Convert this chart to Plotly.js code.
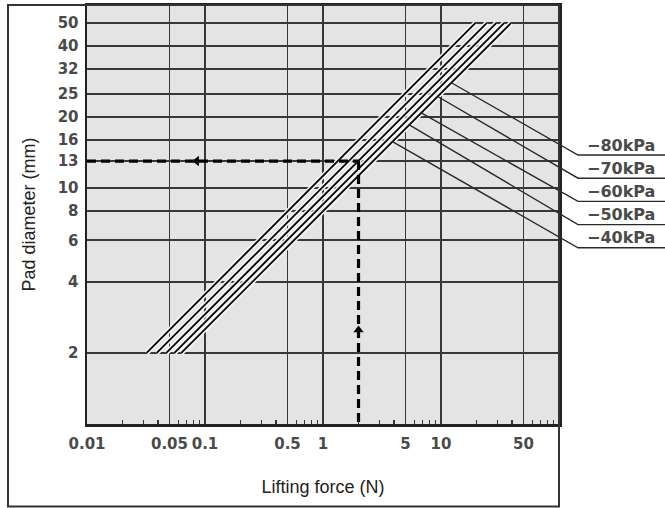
<!DOCTYPE html>
<html><head><meta charset="utf-8">
<script src="https://cdn.plot.ly/plotly-3.0.1.min.js"></script>
<style>html,body{margin:0;padding:0;background:#fff}</style>
</head><body><div id="chart" style="width:665px;height:508px"></div>
<script>
// ---- data ----
const pressureLabels = ['80kPa', '70kPa', '60kPa', '50kPa', '40kPa'];
const diameterEnds = [2, 50];               // mm, where every line starts / ends
const force80 = [0.063, 39.3];              // N at d = 2 and d = 50
const force70 = [0.055, 34.4];
const force60 = [0.047, 29.5];
const force50 = [0.039, 24.5];
const force40 = [0.032, 19.6];
const yTickVals = [2, 4, 6, 8, 10, 13, 16, 20, 25, 32, 40, 50];
const xTickVals = [0.01, 0.05, 0.1, 0.5, 1, 5, 10, 50];
const xTickText = ['0.01', '0.05', '0.1', '0.5', '1', '5', '10', '50'];
const xMinorVals = [0.02, 0.03, 0.04, 0.06, 0.07, 0.08, 0.09,
                    0.2, 0.3, 0.4, 0.6, 0.7, 0.8, 0.9,
                    2, 3, 4, 6, 7, 8, 9,
                    20, 30, 40, 60, 70, 80, 90];
const exampleForce = 2;        // N  (vertical dashed guide)
const exampleDiameter = 13;    // mm (horizontal dashed guide)
const arrowLeftForce = 0.085;  // arrow head on the horizontal guide
const arrowUpDiameter = 2.5;   // arrow head on the vertical guide
const leaderDiameters = [27.9, 24.4, 20.8, 18.5, 15.7]; // where leaders leave the band

// ---- layout constants ----
const W = 665, H = 508;
const M = {l: 87, r: 106, t: 5, b: 84};
const PW = W - M.l - M.r, PH = H - M.t - M.b;
const xRange = [-2, 2], yRange = [0, 1.775];
const lg = Math.log10;
const pxX = p => (p - M.l) / PW;            // pixel -> paper
const pxY = p => (H - M.b - p) / PH;
const dataX = f => (lg(f) - xRange[0]) / (xRange[1] - xRange[0]);
const dataY = d => (lg(d) - yRange[0]) / (yRange[1] - yRange[0]);

const seriesForces = [force80, force70, force60, force50, force40];
const traces = [];
// white halo under the band
seriesForces.forEach(f => traces.push({
  x: f, y: diameterEnds, mode: 'lines', type: 'scatter',
  line: {color: '#f8f8f8', width: 5}, hoverinfo: 'skip', showlegend: false
}));
seriesForces.forEach((f, i) => traces.push({
  x: f, y: diameterEnds, mode: 'lines', type: 'scatter', name: pressureLabels[i],
  line: {color: '#0a0a0a', width: 1.9}, showlegend: false
}));
// dashed guides
traces.push({
  x: [xTickVals[0], exampleForce], y: [exampleDiameter, exampleDiameter],
  mode: 'lines', type: 'scatter', line: {color: '#000', width: 3.2, dash: '9px,5px'},
  showlegend: false, cliponaxis: false
});
traces.push({
  x: [exampleForce, exampleForce], y: [exampleDiameter, 1],
  mode: 'lines', type: 'scatter', line: {color: '#000', width: 3.2, dash: '9px,5px'},
  showlegend: false, cliponaxis: false
});
traces.push({
  x: [arrowLeftForce], y: [exampleDiameter], mode: 'markers', type: 'scatter',
  marker: {symbol: 'triangle-left', size: 9, color: '#000'}, showlegend: false
});
traces.push({
  x: [exampleForce], y: [arrowUpDiameter], mode: 'markers', type: 'scatter',
  marker: {symbol: 'triangle-up', size: 9, color: '#000'}, showlegend: false
});

// leader lines & labels
const shapes = [];
const annotations = [];
const labelTop = 145, labelStep = 23.2;
const bendX = pxX(578), endX = pxX(665);
// 80kPa line in log space (rightmost edge of the band)
const edgeForceAt = d => {
  const t = (lg(d) - lg(diameterEnds[0])) / (lg(diameterEnds[1]) - lg(diameterEnds[0]));
  return Math.pow(10, lg(force80[0]) + t * (lg(force80[1]) - lg(force80[0])));
};
pressureLabels.forEach((lab, i) => {
  const cy = labelTop + i * labelStep;
  const uy = pxY(cy + 10);
  const sx = dataX(edgeForceAt(leaderDiameters[i]));
  const sy = dataY(leaderDiameters[i]);
  shapes.push({
    type: 'path', xref: 'paper', yref: 'paper',
    path: `M ${sx} ${sy} L ${bendX} ${uy} L ${endX} ${uy}`,
    line: {color: '#2a2a2a', width: 1.4}, layer: 'above'
  });
  annotations.push({
    xref: 'paper', yref: 'paper', x: pxX(585), y: pxY(cy),
    xanchor: 'left', yanchor: 'middle', showarrow: false,
    text: '\u2212' + lab,
    font: {family: 'DejaVu Sans', size: 16, color: '#4a4a4a', weight: 'bold'}
  });
});
// outer frame
shapes.push({
  type: 'rect', xref: 'paper', yref: 'paper',
  x0: pxX(8), x1: 1, y0: pxY(506.5), y1: 1,
  line: {color: '#333', width: 2}, layer: 'above'
});

const tickFont = {family: 'DejaVu Sans', size: 15, color: '#4a4a4a', weight: 'bold'};
const layout = {
  width: W, height: H, margin: M,
  paper_bgcolor: '#ffffff', plot_bgcolor: '#e4e4e4',
  showlegend: false,
  xaxis: {
    type: 'log', range: xRange, tickmode: 'array', tickvals: xTickVals, ticktext: xTickText,
    showgrid: true, gridcolor: '#383838', gridwidth: 1.7,
    showline: true, linecolor: '#222', linewidth: 2.5, mirror: true,
    ticks: '', tickfont: tickFont, ticklabelstandoff: 4, zeroline: false,
    minor: {tickmode: 'array', tickvals: xMinorVals, ticks: 'inside', ticklen: 4,
            tickcolor: '#333', tickwidth: 1.2, showgrid: false},
    title: {text: 'Lifting force (N)', standoff: 29,
            font: {family: 'Liberation Sans', size: 18, color: '#222'}}
  },
  yaxis: {
    type: 'log', range: yRange, tickmode: 'array', tickvals: yTickVals,
    ticktext: yTickVals.map(String),
    showgrid: true, gridcolor: '#383838', gridwidth: 1.7,
    showline: true, linecolor: '#222', linewidth: 2.5, mirror: true,
    ticks: '', tickfont: tickFont, ticklabelstandoff: 3, zeroline: false,
    title: {text: 'Pad diameter (mm)', standoff: 18,
            font: {family: 'Liberation Sans', size: 18, color: '#222'}}
  },
  shapes: shapes,
  annotations: annotations
};
Plotly.newPlot('chart', traces, layout, {displayModeBar: false, staticPlot: true});
</script></body></html>
